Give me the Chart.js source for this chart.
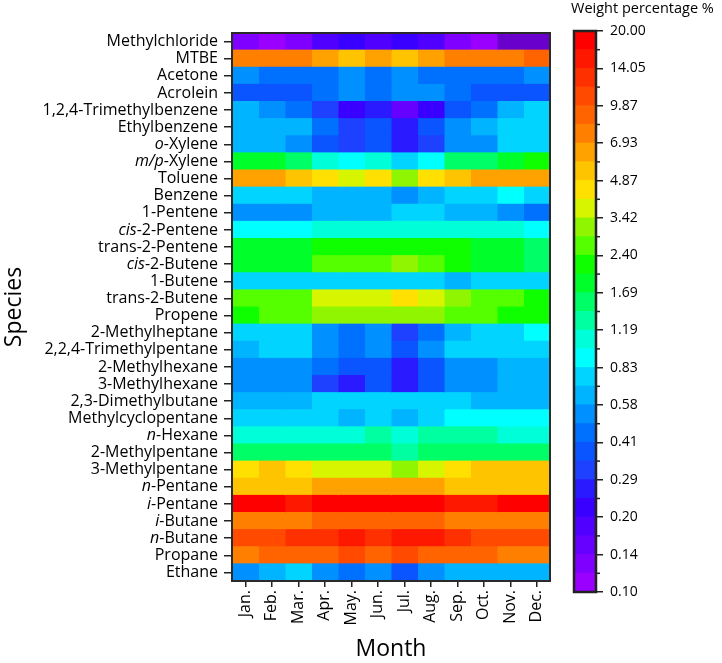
<!DOCTYPE html>
<html>
<head>
<meta charset="utf-8">
<script src="https://cdn.jsdelivr.net/npm/chart.js@4.4.0/dist/chart.umd.min.js"></script>
<style>
  body { margin: 0; background: #fff; }
  #wrap { position: relative; width: 722px; height: 663px; }
  #heat { position: absolute; left: 0; top: 0; }
  #bar { position: absolute; left: 560px; top: 0; }
</style>
</head>
<body>
<div id="wrap">
  <canvas id="heat" width="722" height="663"></canvas>
  <canvas id="bar" width="162" height="663"></canvas>
</div>
<script>
var species = ['Methylchloride', 'MTBE', 'Acetone', 'Acrolein', '1,2,4-Trimethylbenzene', 'Ethylbenzene',
    'o-Xylene', 'm/p-Xylene', 'Toluene', 'Benzene', '1-Pentene', 'cis-2-Pentene', 'trans-2-Pentene',
    'cis-2-Butene', '1-Butene', 'trans-2-Butene', 'Propene', '2-Methylheptane', '2,2,4-Trimethylpentane',
    '2-Methylhexane', '3-Methylhexane', '2,3-Dimethylbutane', 'Methylcyclopentane', 'n-Hexane',
    '2-Methylpentane', '3-Methylpentane', 'n-Pentane', 'i-Pentane', 'i-Butane', 'n-Butane', 'Propane', 'Ethane'];
var italicPrefixes = ['o', 'm/p', 'cis', 'n', 'i'];

var months = ['Jan.', 'Feb.', 'Mar.', 'Apr.', 'May.', 'Jun.', 'Jul.', 'Aug.', 'Sep.', 'Oct.', 'Nov.', 'Dec.'];

// weight percentage (%) per species, top to bottom, one array per month
var jan = [0.13, 7.57, 0.53, 0.37, 0.64, 0.64, 0.64, 1.84, 6.35, 0.76, 0.53, 0.91, 1.84, 1.84, 0.76, 2.62, 2.2, 0.76, 0.64, 0.53, 0.53, 0.64, 0.76, 1.08, 1.54, 4.46, 5.32, 18.3, 7.57, 10.8, 7.57, 0.53];
var feb = [0.11, 7.57, 0.45, 0.37, 0.53, 0.64, 0.64, 1.84, 6.35, 0.76, 0.53, 0.91, 1.84, 1.84, 0.76, 2.62, 2.62, 0.76, 0.76, 0.53, 0.53, 0.64, 0.76, 1.08, 1.54, 5.32, 5.32, 18.3, 7.57, 10.8, 9.03, 0.64];
var mar = [0.13, 7.57, 0.45, 0.37, 0.45, 0.64, 0.53, 1.54, 5.32, 0.76, 0.53, 0.91, 1.84, 1.84, 0.76, 2.62, 2.62, 0.76, 0.76, 0.53, 0.53, 0.64, 0.76, 1.08, 1.54, 4.46, 5.32, 15.3, 7.57, 12.9, 9.03, 0.76];
var apr = [0.185, 6.35, 0.45, 0.45, 0.315, 0.45, 0.37, 1.08, 4.46, 0.64, 0.64, 1.08, 2.2, 2.62, 0.76, 3.74, 3.13, 0.53, 0.53, 0.45, 0.315, 0.76, 0.76, 1.08, 1.54, 3.74, 6.35, 18.3, 9.03, 12.9, 9.03, 0.53];
var may = [0.22, 5.32, 0.53, 0.53, 0.22, 0.315, 0.315, 0.91, 3.74, 0.64, 0.64, 1.08, 2.2, 2.62, 0.76, 3.74, 3.13, 0.45, 0.45, 0.37, 0.26, 0.76, 0.64, 1.08, 1.54, 3.74, 6.35, 18.3, 9.03, 15.3, 10.8, 0.45];
var jun = [0.185, 6.35, 0.45, 0.45, 0.26, 0.37, 0.37, 1.08, 4.46, 0.64, 0.64, 1.08, 2.2, 2.62, 0.76, 3.74, 3.13, 0.53, 0.53, 0.37, 0.37, 0.76, 0.76, 1.29, 1.54, 3.74, 6.35, 18.3, 9.03, 12.9, 9.03, 0.53];
var jul = [0.22, 5.32, 0.53, 0.53, 0.155, 0.26, 0.26, 0.76, 3.13, 0.53, 0.76, 1.08, 2.2, 3.13, 0.76, 4.46, 3.13, 0.315, 0.37, 0.26, 0.26, 0.76, 0.64, 1.08, 1.29, 3.13, 6.35, 18.3, 9.03, 15.3, 10.8, 0.37];
var aug = [0.185, 6.35, 0.45, 0.53, 0.22, 0.37, 0.315, 0.91, 4.46, 0.64, 0.76, 1.08, 2.2, 2.62, 0.76, 3.74, 3.13, 0.45, 0.53, 0.37, 0.37, 0.76, 0.76, 1.29, 1.54, 3.74, 6.35, 18.3, 9.03, 15.3, 9.03, 0.53];
var sep = [0.13, 7.57, 0.45, 0.45, 0.37, 0.53, 0.53, 1.54, 5.32, 0.76, 0.64, 1.08, 2.2, 2.2, 0.64, 3.13, 2.62, 0.64, 0.76, 0.53, 0.53, 0.76, 0.91, 1.29, 1.54, 4.46, 5.32, 15.3, 7.57, 12.9, 9.03, 0.64];
var oct = [0.11, 7.57, 0.45, 0.37, 0.45, 0.64, 0.53, 1.54, 6.35, 0.76, 0.64, 1.08, 1.84, 1.84, 0.76, 2.62, 2.62, 0.76, 0.76, 0.53, 0.53, 0.64, 0.91, 1.29, 1.54, 5.32, 5.32, 15.3, 7.57, 10.8, 9.03, 0.64];
var nov = [0.09, 7.57, 0.45, 0.37, 0.64, 0.76, 0.76, 1.84, 6.35, 0.91, 0.53, 1.08, 1.84, 1.84, 0.76, 2.62, 2.2, 0.76, 0.76, 0.64, 0.64, 0.64, 0.91, 1.08, 1.54, 5.32, 5.32, 18.3, 7.57, 10.8, 7.57, 0.64];
var dec = [0.09, 9.03, 0.53, 0.37, 0.76, 0.76, 0.76, 2.2, 6.35, 0.76, 0.45, 0.91, 1.54, 1.54, 0.76, 2.2, 2.2, 0.91, 0.76, 0.64, 0.64, 0.64, 0.91, 1.08, 1.54, 5.32, 5.32, 18.3, 7.57, 10.8, 7.57, 0.64];
var monthData = [jan, feb, mar, apr, may, jun, jul, aug, sep, oct, nov, dec];

// colour bar tick labels, bottom to top (log scale, 2 colour levels per label step)
var cbTicks = ['0.10', '0.14', '0.20', '0.29', '0.41', '0.58', '0.83', '1.19', '1.69', '2.40', '3.42', '4.87', '6.93', '9.87', '14.05', '20.00'];

// colour levels, low to high
var palette = ['#9900ff', '#8000ff', '#6600ff', '#5000ff', '#3a00ff', '#2a1aff', '#1e40ff', '#0a55ff', '#0070ff', '#0090ff',
    '#00b4ff', '#00d4ff', '#00ffff', '#00ffd8', '#00ffa0', '#00ff66', '#00ff2a', '#10ff00', '#55ff00', '#90f500',
    '#d8f500', '#ffe000', '#ffc400', '#ffa200', '#ff8000', '#ff6400', '#ff4a00', '#ff3000', '#ff1800', '#ff0000'];
var belowColor = '#6a00cc';

var cbMin = parseFloat(cbTicks[0]);
var cbMax = parseFloat(cbTicks[cbTicks.length - 1]);

function colorFor(v) {
    if (v < cbMin) return belowColor;
    var k = Math.floor(Math.log(v / cbMin) / Math.log(cbMax / cbMin) * palette.length);
    return palette[Math.max(0, Math.min(palette.length - 1, k))];
}

Chart.defaults.font.family = '"Open Sans", sans-serif';
Chart.defaults.color = '#000';

var frameAndLabels = {
    id: 'frameAndLabels',
    afterDraw: function (chart) {
        var ctx = chart.ctx;
        var a = chart.chartArea;
        var yScale = chart.scales.y;
        ctx.save();
        ctx.textBaseline = 'middle';
        ctx.textAlign = 'right';
        ctx.fillStyle = '#000';
        var x = a.left - 14;
        species.forEach(function (name, i) {
            var y = yScale.getPixelForValue(i);
            var dash = name.indexOf('-');
            var prefix = dash > 0 ? name.slice(0, dash) : '';
            if (italicPrefixes.indexOf(prefix) >= 0) {
                var rest = name.slice(dash);
                ctx.font = '16px "Open Sans"';
                ctx.fillText(rest, x, y);
                var w = ctx.measureText(rest).width;
                ctx.font = 'italic 16px "Open Sans"';
                ctx.fillText(prefix, x - w, y);
            } else {
                ctx.font = '16px "Open Sans"';
                ctx.fillText(name, x, y);
            }
        });
        ctx.strokeStyle = '#2a2a2a';
        ctx.lineWidth = 2;
        ctx.strokeRect(a.left, a.top, a.right - a.left, a.bottom - a.top);
        ctx.restore();
    }
};

var heatSets = monthData.map(function (vals, m) {
    return {
        label: months[m],
        data: vals.map(function () { return [m, m + 1]; }),
        backgroundColor: vals.map(colorFor),
        borderWidth: 0,
        grouped: false,
        barPercentage: 1,
        categoryPercentage: 1,
        inflateAmount: 0.5
    };
});

new Chart(document.getElementById('heat').getContext('2d'), {
    type: 'bar',
    data: { labels: species, datasets: heatSets },
    options: {
        indexAxis: 'y',
        responsive: false,
        animation: false,
        layout: { padding: { top: 33, right: 172, left: 0, bottom: 0 } },
        plugins: { legend: { display: false }, tooltip: { enabled: false } },
        scales: {
            x: {
                type: 'linear',
                min: 0,
                max: months.length,
                afterBuildTicks: function (s) {
                    s.ticks = months.map(function (m, i) { return { value: i + 0.5 }; });
                },
                ticks: {
                    autoSkip: false,
                    minRotation: 90,
                    maxRotation: 90,
                    padding: 3,
                    font: { size: 16 },
                    callback: function (v, i) { return months[i]; }
                },
                grid: { drawOnChartArea: false, tickLength: 6, color: '#222', lineWidth: 1.5 },
                border: { display: false },
                title: { display: true, text: 'Month', font: { size: 23 }, padding: { top: 0, bottom: 0 } },
                afterFit: function (s) { s.height = 82; }
            },
            y: {
                type: 'category',
                ticks: { display: false },
                grid: { drawOnChartArea: false, tickLength: 8, color: '#222', lineWidth: 1.5, offset: false },
                border: { display: false },
                title: { display: true, text: 'Species', font: { size: 23 }, padding: { top: 1, bottom: 0 } },
                afterFit: function (s) { s.width = 232; }
            }
        }
    },
    plugins: [frameAndLabels]
});

var barDecor = {
    id: 'barDecor',
    afterDraw: function (chart) {
        var ctx = chart.ctx;
        var a = chart.chartArea;
        var yScale = chart.scales.y;
        ctx.save();
        ctx.strokeStyle = '#222';
        ctx.lineWidth = 1.5;
        for (var k = 1; k < palette.length; k += 2) {
            var y = yScale.getPixelForValue(k);
            ctx.beginPath();
            ctx.moveTo(a.right, y);
            ctx.lineTo(a.right + 4, y);
            ctx.stroke();
        }
        ctx.lineWidth = 2.5;
        ctx.strokeRect(a.left, a.top, a.right - a.left, a.bottom - a.top);
        ctx.fillStyle = '#000';
        ctx.font = '14.5px "Open Sans"';
        ctx.textAlign = 'left';
        ctx.textBaseline = 'middle';
        ctx.fillText('Weight percentage %', 11, 9);
        ctx.restore();
    }
};

var barSets = palette.map(function (c, k) {
    return {
        data: [[k, k + 1]],
        backgroundColor: c,
        borderWidth: 0,
        grouped: false,
        barPercentage: 1,
        categoryPercentage: 1,
        inflateAmount: 0.5
    };
});

new Chart(document.getElementById('bar').getContext('2d'), {
    type: 'bar',
    data: { labels: [''], datasets: barSets },
    options: {
        responsive: false,
        animation: false,
        layout: { padding: { top: 31, left: 14, bottom: 71, right: 0 } },
        plugins: { legend: { display: false }, tooltip: { enabled: false } },
        scales: {
            x: { display: false },
            y: {
                type: 'linear',
                position: 'right',
                min: 0,
                max: palette.length,
                afterBuildTicks: function (s) {
                    s.ticks = cbTicks.map(function (t, i) { return { value: i * palette.length / (cbTicks.length - 1) }; });
                },
                ticks: {
                    padding: 7,
                    font: { size: 14 },
                    callback: function (v, i) { return cbTicks[i]; }
                },
                grid: { drawOnChartArea: false, tickLength: 7, color: '#222', lineWidth: 1.5 },
                border: { display: false },
                afterFit: function (s) { s.width = 126; }
            }
        }
    },
    plugins: [barDecor]
});
</script>
</body>
</html>
